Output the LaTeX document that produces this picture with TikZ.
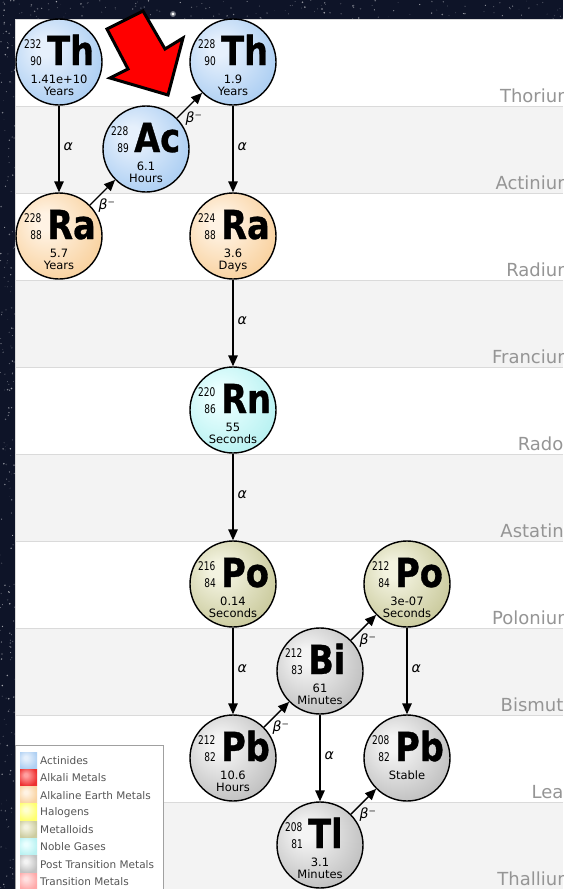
\documentclass[tikz,border=0pt]{standalone}
\usepackage{fontspec}
\setmainfont{DejaVu Sans}
\newfontfamily\elemfont{DejaVu Sans Bold}[FakeStretch=0.84,FakeBold=0.8]
\newfontfamily\nucfont{DejaVu Sans}[FakeStretch=0.75]
\usetikzlibrary{arrows.meta}

\definecolor{spacebg}{HTML}{0E1428}
\definecolor{panelgray}{HTML}{F3F3F3}
\definecolor{rowline}{HTML}{DADADA}
\definecolor{labelgray}{HTML}{959595}
\definecolor{legendtext}{HTML}{555555}
\definecolor{legendframe}{HTML}{A0A0A0}
\definecolor{arrowred}{HTML}{FF0000}

% radial "sphere" shading: light spot up-left, category colour at the rim
\newcommand\mkshade[3]{%
  \definecolor{#1in}{HTML}{#2}\definecolor{#1out}{HTML}{#3}%
  \pgfdeclareradialshading{#1}{\pgfpoint{-9bp}{9bp}}{%
    color(0bp)=(#1in); color(5bp)=(#1in); color(30bp)=(#1out); color(60bp)=(#1out)}}
\mkshade{actsh}{E6F0FC}{AFD0F3}
\mkshade{alksh}{FFA0A0}{EE3030}
\mkshade{aesh}{FFF3E4}{F9D3A2}
\mkshade{halsh}{FFFFD0}{FFFF70}
\mkshade{metsh}{F3F3E0}{CCCCA0}
\mkshade{noblesh}{EAFFFF}{BAF2F2}
\mkshade{ptsh}{F4F4F4}{C2C2C2}
\mkshade{trsh}{FFE0E0}{FFA8A8}

\tikzset{
  nuc/.style={circle, draw=black, line width=1.4pt, minimum size=86pt, inner sep=0pt},
  massno/.style={font=\nucfont\fontsize{12}{12}\selectfont, inner sep=0pt, anchor=base east},
  elem/.style={font=\elemfont\fontsize{40}{40}\selectfont, inner sep=0pt, anchor=base west},
  halflife/.style={font=\fontsize{11.5}{11.5}\selectfont, inner sep=0pt, anchor=base},
  decay/.style={draw=black, line width=1.4pt, -{Triangle[length=11pt,width=9.5pt]}},
  alab/.style={font=\itshape\fontsize{14}{14}\selectfont, pos=0.47, anchor=west, xshift=3pt, inner sep=1pt},
  blab/.style={font=\fontsize{14}{14}\selectfont, pos=0.3, anchor=north west, inner sep=0.5pt},
  rowlabel/.style={font=\fontsize{18}{18}\selectfont, text=labelgray, anchor=base east, inner sep=0pt},
  legtext/.style={font=\fontsize{10.5}{10.5}\selectfont, text=legendtext, anchor=west, inner sep=0pt},
}

% one nuclide: name, x, y, shading, mass number, atomic number, symbol, half-life lines
\newcommand\nuclide[9]{%
  \node[nuc, shading=#4] (#1) at (#2,#3) {};
  \node[massno] (#1-a) at (#2-17.5,#3-14) {#5};
  \node[massno] (#1-z) at (#2-17,#3+3) {#6};
  \node[elem] (#1-s) at (#2-12,#3+3) {#7};
  \node[halflife] (#1-h) at (#2,#3+21) {#8};
  \if\relax\detokenize{#9}\relax\else
    \node[halflife] (#1-u) at (#2,#3+33) {#9};
  \fi
}

\begin{document}
\begin{tikzpicture}[x=1pt,y=-1pt]
\useasboundingbox (0,0) rectangle (563,889);
\clip (0,0) rectangle (563,889);

% night-sky backdrop
\fill[spacebg] (0,0) rectangle (563,889);
\pgfmathsetseed{42}
\foreach \k in {1,...,140}{
  \pgfmathsetmacro\sx{rnd*563}\pgfmathsetmacro\sy{rnd*19}
  \pgfmathsetmacro\so{0.15+rnd*0.5}\pgfmathsetmacro\sr{0.3+rnd*0.6}
  \fill[white, opacity=\so] (\sx,\sy) circle (\sr);
}
\foreach \k in {1,...,200}{
  \pgfmathsetmacro\sx{rnd*15}\pgfmathsetmacro\sy{19+rnd*870}
  \pgfmathsetmacro\so{0.15+rnd*0.5}\pgfmathsetmacro\sr{0.3+rnd*0.6}
  \fill[white, opacity=\so] (\sx,\sy) circle (\sr);
}
\fill[white] (173,14) circle (1.6);
\fill[white, opacity=0.4] (173,14) circle (3);

% element rows
\fill[white] (15,19) rectangle (563,889);
\foreach \i in {1,3,5,7,9}
  \fill[panelgray] (15,19+87*\i) rectangle (563,106+87*\i);
\foreach \i in {0,...,8}
  \draw[rowline, line width=0.8pt] (15,106+87*\i) -- (563,106+87*\i);
\draw[rowline, line width=0.8pt] (15,889) -- (15,19) -- (563,19);

\foreach \lab [count=\i from 0] in {Thorium,Actinium,Radium,Francium,Radon,Astatine,Polonium,Bismuth,Lead,Thallium}
  \node[rowlabel] (row\i) at (575,102.5+87*\i) {\lab};

% nuclides
\nuclide{th232}{59}{62}{actsh}{232}{90}{Th}{1.41e+10}{Years}
\nuclide{ac228}{146}{149}{actsh}{228}{89}{Ac}{6.1}{Hours}
\nuclide{th228}{233}{62}{actsh}{228}{90}{Th}{1.9}{Years}
\nuclide{ra228}{59}{236}{aesh}{228}{88}{Ra}{5.7}{Years}
\nuclide{ra224}{233}{236}{aesh}{224}{88}{Ra}{3.6}{Days}
\nuclide{rn220}{233}{410}{noblesh}{220}{86}{Rn}{55}{Seconds}
\nuclide{po216}{233}{584}{metsh}{216}{84}{Po}{0.14}{Seconds}
\nuclide{po212}{407}{584}{metsh}{212}{84}{Po}{3e-07}{Seconds}
\nuclide{bi212}{320}{671}{ptsh}{212}{83}{Bi}{61}{Minutes}
\nuclide{pb212}{233}{758}{ptsh}{212}{82}{Pb}{10.6}{Hours}
\nuclide{pb208}{407}{758}{ptsh}{208}{82}{Pb}{Stable}{}
\nuclide{tl208}{320}{845}{ptsh}{208}{81}{Tl}{3.1}{Minutes}

% alpha decays
\draw[decay] (th232) -- node[alab] {α} (ra228);
\draw[decay] (th228) -- node[alab] {α} (ra224);
\draw[decay] (ra224) -- node[alab] {α} (rn220);
\draw[decay] (rn220) -- node[alab] {α} (po216);
\draw[decay] (po216) -- node[alab] {α} (pb212);
\draw[decay] (po212) -- node[alab] {α} (pb208);
\draw[decay] (bi212) -- node[alab] {α} (tl208);

% beta-minus decays
\draw[decay] (ra228) -- node[blab] {\textit{β}⁻} (ac228);
\draw[decay] (ac228) -- node[blab] {\textit{β}⁻} (th228);
\draw[decay] (pb212) -- node[blab] {\textit{β}⁻} (bi212);
\draw[decay] (bi212) -- node[blab] {\textit{β}⁻} (po212);
\draw[decay] (tl208) -- node[blab] {\textit{β}⁻} (pb208);

% red pointer
\filldraw[fill=arrowred, draw=black, line width=3pt, line join=miter]
  (107,29) -- (143,11) -- (165,49) -- (183,38) -- (168,95) -- (110,78) -- (128,69) -- cycle;

% legend
\draw[legendframe, fill=white, line width=0.8pt] (15,745) rectangle (163,895);
\foreach \nm/\sh [count=\i from 0] in {Actinides/actsh,Alkali Metals/alksh,Alkaline Earth Metals/aesh,Halogens/halsh,Metalloids/metsh,Noble Gases/noblesh,Post Transition Metals/ptsh,Transition Metals/trsh}{
  \shade[shading=\sh] (20,752+17.3*\i) rectangle (37,768.5+17.3*\i);
  \node[legtext] (leg\i) at (40,760.5+17.3*\i) {\nm};
}
\end{tikzpicture}
\end{document}
